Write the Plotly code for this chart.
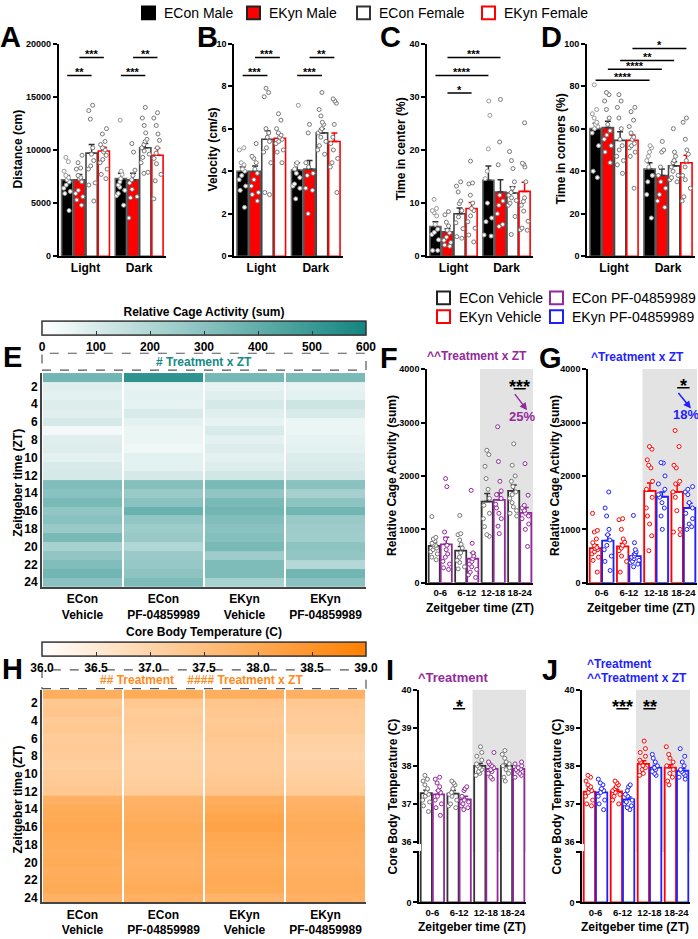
import plotly.graph_objects as go

W, H = 698, 939
FONT = "Liberation Sans, Arial, Helvetica, sans-serif"
BARGAP = 0.09
GROUPGAP = 0.08

PURPLE = "#932a9c"
BLUE = "#1f1fff"
RED = "#ff0000"
TEAL = "#168a85"
ORANGE = "#ff8a1c"
SHADE = "#e3e3e3"

# ---------------- data ----------------
ld_cats = ["Light", "Dark"]
sex_groups = ["ECon Male", "EKyn Male", "ECon Female", "EKyn Female"]

dist_means = [[7200, 7300], [7200, 7200], [9700, 10200], [9900, 9500]]
dist_sems = [[400, 500], [500, 600], [800, 400], [350, 650]]
dist_pts = [
    [[9300, 8900, 8000, 7600, 7400, 7200, 7000, 6700, 6400, 6100, 5900, 4300],
     [12800, 8000, 7700, 7300, 7000, 6700, 6500, 6200, 5900, 5700, 4800]],
    [[9500, 8800, 8300, 8200, 7600, 7400, 7300, 7000, 6200, 5900, 5600, 5300, 4800],
     [10600, 9800, 8100, 7600, 7200, 6900, 6300, 5600, 5500, 3600]],
    [[14200, 13700, 12900, 10200, 9600, 9000, 8500, 8200, 6900, 6700, 5200],
     [14000, 13000, 12300, 11600, 11000, 10800, 10500, 10200, 9900, 9600, 9300, 8800, 7900, 7800]],
    [[12000, 11500, 10800, 10500, 10200, 10000, 9800, 9500, 9100, 8800, 8200, 7700, 7300],
     [13500, 13000, 12300, 11500, 10900, 10200, 9700, 9200, 8700, 7700, 7100, 5400]],
]

vel_means = [[4.0, 4.05], [4.0, 4.1], [5.5, 5.8], [5.55, 5.4]]
vel_sems = [[0.2, 0.35], [0.25, 0.4], [0.4, 0.2], [0.2, 0.4]]
vel_pts = [
    [[5.1, 5.0, 4.4, 4.3, 4.1, 4.0, 3.8, 3.6, 3.3, 3.1, 2.3],
     [7.1, 4.4, 4.3, 4.1, 3.9, 3.7, 3.4, 3.3, 3.2, 2.7]],
    [[5.3, 4.7, 4.6, 4.4, 4.1, 3.9, 3.6, 3.3, 3.0, 2.9, 2.6],
     [6.2, 5.8, 4.4, 4.2, 3.9, 3.8, 3.2, 3.1, 2.0]],
    [[7.9, 7.7, 7.5, 6.0, 5.8, 5.6, 5.4, 5.1, 4.9, 4.4, 3.0, 2.9],
     [7.7, 6.3, 6.9, 6.6, 6.2, 6.0, 5.9, 5.8, 5.6, 5.4, 5.2, 5.0, 4.8]],
    [[6.7, 6.4, 6.0, 5.8, 5.7, 5.6, 5.5, 5.4, 5.3, 5.0, 4.9, 4.4],
     [7.4, 7.3, 7.2, 6.2, 5.6, 5.3, 5.0, 4.6, 4.4, 4.2, 3.0]],
]

center_means = [[5.6, 14.3], [4.6, 12.1], [8.0, 11.9], [9.0, 12.2]]
center_sems = [[0.9, 2.7], [0.6, 2.3], [1.1, 1.2], [1.1, 1.7]]
center_pts = [
    [[10.7, 9.0, 8.6, 8.2, 7.6, 6.0, 5.1, 4.5, 4.1, 3.1, 1.1, 1.1],
     [29.2, 26.5, 20.2, 16.0, 14.6, 10.0, 7.2, 6.5, 4.0, 3.8]],
    [[8.4, 7.8, 6.4, 5.7, 4.9, 4.4, 3.6, 3.0, 2.6, 2.1, 1.9],
     [29.5, 21.5, 17.2, 11.5, 10.4, 9.6, 8.0, 6.0, 5.6]],
    [[14.0, 13.2, 12.1, 10.4, 9.9, 8.6, 7.4, 6.3, 5.2, 3.7, 3.4],
     [19.7, 18.0, 16.5, 14.0, 12.8, 12.0, 11.5, 11.0, 10.5, 10.0, 9.6, 7.5, 4.1]],
    [[17.9, 13.8, 13.6, 11.5, 10.0, 9.0, 8.6, 7.6, 6.5, 5.3, 4.0, 2.7],
     [25.1, 17.5, 17.3, 16.8, 14.0, 11.0, 10.3, 9.6, 8.5, 6.6, 5.3, 5.0, 4.9]],
]

corner_means = [[60, 41], [60.5, 38], [54.5, 42.5], [54.5, 44]]
corner_sems = [[2.5, 3], [3, 3], [4, 2], [2.5, 3.5]]
corner_pts = [
    [[80.6, 69, 67, 65, 63, 62, 61, 60, 58, 52, 40, 37], [52, 51, 49, 47, 45, 42, 38, 35, 29, 18]],
    [[77, 76, 73, 69, 65, 62, 59, 57, 55, 52, 49, 44], [54, 50, 49, 42, 38, 35, 32, 29, 26, 23]],
    [[76, 73, 70, 65, 60, 55, 52, 50, 47, 45, 43, 39], [60, 49, 47, 45, 44, 42, 40, 38, 37, 36, 35]],
    [[70, 68, 64, 61, 58, 56, 55, 53, 52, 51, 49, 47, 32], [65, 63, 55, 50, 48, 45, 42, 38, 36, 32, 28, 26]],
]

zt_bins = ["0-6", "6-12", "12-18", "18-24"]

act_econ_names = ["ECon Vehicle", "ECon PF-04859989"]
act_econ_means = [[690, 600, 1520, 1720], [720, 450, 1550, 1310]]
act_econ_sems = [[60, 80, 150, 110], [130, 110, 130, 100]]
act_econ_pts = [
    [[1240, 850, 820, 780, 740, 720, 700, 680, 650, 620, 580, 540, 480, 430],
     [1260, 920, 900, 800, 720, 650, 560, 480, 420, 380, 300, 260],
     [2480, 2400, 2180, 1950, 1750, 1580, 1450, 1300, 1200, 1050, 900, 870],
     [2600, 2200, 2000, 1900, 1800, 1700, 1650, 1580, 1500, 1420, 1350, 1300, 1250]],
    [[1950, 1800, 950, 820, 700, 620, 540, 480, 400, 350, 280, 250],
     [1730, 740, 560, 500, 450, 400, 350, 300, 250, 200, 150, 100],
     [2920, 2270, 1900, 1720, 1650, 1580, 1470, 1400, 1300, 1200, 1060, 920],
     [2230, 1640, 1450, 1400, 1350, 1300, 1250, 1200, 1100, 1000, 680]],
]

act_ekyn_names = ["EKyn Vehicle", "EKyn PF-04859989"]
act_ekyn_means = [[650, 680, 1720, 1700], [790, 500, 1610, 1400]]
act_ekyn_sems = [[60, 60, 150, 130], [110, 50, 90, 90]]
act_ekyn_pts = [
    [[1300, 980, 950, 820, 750, 700, 660, 640, 620, 580, 540, 480, 420, 200],
     [1200, 1180, 1000, 820, 760, 700, 650, 600, 500, 400, 200],
     [2550, 2500, 2300, 2200, 2150, 1900, 1750, 1600, 1400, 1250, 1100, 880, 600],
     [2850, 2550, 2200, 2150, 1900, 1850, 1700, 1600, 1350, 1000, 950, 900]],
    [[1700, 1400, 1250, 1000, 900, 800, 700, 620, 500, 400, 230],
     [1260, 750, 620, 580, 540, 500, 480, 450, 420, 400, 380, 350, 300],
     [2250, 2240, 2000, 1850, 1750, 1650, 1600, 1500, 1400, 1250, 1000],
     [1800, 1750, 1700, 1650, 1500, 1400, 1300, 1200, 1100, 1050, 1000]],
]

temp_econ_means = [[37.28, 37.27, 38.0, 38.0], [37.25, 37.12, 37.92, 37.92]]
temp_econ_sems = [[0.08, 0.08, 0.06, 0.06], [0.1, 0.08, 0.07, 0.06]]
temp_econ_pts = [
    [[37.75, 37.65, 37.6, 37.5, 37.4, 37.3, 37.25, 37.2, 37.1, 37.05, 36.95, 36.8],
     [37.6, 37.55, 37.5, 37.4, 37.3, 37.25, 37.2, 37.1, 37.0, 36.95, 36.9],
     [38.5, 38.35, 38.25, 38.15, 38.05, 38.0, 37.95, 37.9, 37.85, 37.8, 37.75],
     [38.4, 38.3, 38.2, 38.1, 38.05, 38.0, 37.95, 37.9, 37.8, 37.7, 37.6]],
    [[37.7, 37.65, 37.55, 37.45, 37.35, 37.3, 37.2, 37.1, 37.0, 36.9, 36.7],
     [37.45, 37.4, 37.35, 37.2, 37.1, 37.05, 37.0, 36.95, 36.9, 36.85],
     [38.35, 38.1, 38.05, 38.0, 37.95, 37.9, 37.85, 37.8, 37.7, 37.65],
     [38.1, 38.05, 38.0, 37.95, 37.92, 37.9, 37.85, 37.8, 37.75, 37.7]],
]

temp_ekyn_means = [[37.32, 37.33, 38.05, 37.95], [37.3, 37.12, 37.95, 37.87]]
temp_ekyn_sems = [[0.07, 0.05, 0.08, 0.08], [0.08, 0.06, 0.06, 0.06]]
temp_ekyn_pts = [
    [[37.75, 37.7, 37.6, 37.5, 37.45, 37.4, 37.35, 37.3, 37.2, 37.1, 37.0, 36.95],
     [37.6, 37.55, 37.5, 37.45, 37.4, 37.35, 37.3, 37.25, 37.2, 37.1, 37.0],
     [38.65, 38.45, 38.35, 38.25, 38.15, 38.1, 38.0, 37.95, 37.9, 37.8, 37.75],
     [38.5, 38.3, 38.2, 38.1, 38.0, 37.9, 37.8, 37.7, 37.6, 37.5]],
    [[37.65, 37.55, 37.5, 37.4, 37.35, 37.3, 37.2, 37.1, 37.0, 36.85],
     [37.5, 37.45, 37.35, 37.25, 37.2, 37.1, 37.05, 37.0, 36.95, 36.9, 36.85],
     [38.3, 38.2, 38.1, 38.0, 37.95, 37.9, 37.85, 37.8, 37.75],
     [38.45, 38.25, 38.1, 38.0, 37.9, 37.85, 37.8, 37.75, 37.7, 37.65]],
]

hm_cols = ["ECon<br>Vehicle", "ECon<br>PF-04859989", "EKyn<br>Vehicle", "EKyn<br>PF-04859989"]
zt_hours = list(range(1, 25))
zt_ticks = list(range(2, 25, 2))

cage_econ_veh = [360, 80, 70, 90, 80, 110, 30, 80, 90, 70, 100, 110, 320, 300, 340, 280, 300, 260, 340, 220, 280, 320, 360, 300]
cage_econ_pf = [530, 60, 70, 60, 100, 70, 50, 50, 40, 70, 70, 110, 310, 260, 300, 380, 280, 250, 260, 200, 260, 270, 290, 330]
cage_ekyn_veh = [350, 60, 80, 110, 80, 60, 100, 70, 90, 70, 90, 120, 340, 280, 340, 360, 320, 300, 310, 340, 250, 330, 330, 220]
cage_ekyn_pf = [340, 60, 70, 130, 100, 50, 50, 60, 70, 90, 100, 120, 300, 230, 290, 360, 260, 250, 240, 290, 280, 190, 360, 300]
cage_ticks = [0, 100, 200, 300, 400, 500, 600]

temp_econ_veh = [37.9, 37.3, 37.35, 37.25, 37.3, 37.2, 37.25, 37.2, 37.15, 37.2, 37.25, 37.3, 37.85, 37.95, 38.0, 38.05, 38.0, 37.95, 37.9, 37.95, 37.9, 37.95, 38.0, 37.8]
temp_econ_pf = [37.95, 37.3, 37.2, 37.25, 37.2, 37.15, 37.1, 37.05, 37.1, 37.1, 37.15, 37.2, 37.8, 37.85, 37.9, 38.0, 37.95, 37.9, 37.85, 37.8, 37.85, 37.9, 37.95, 37.85]
temp_ekyn_veh = [37.9, 37.35, 37.3, 37.25, 37.3, 37.3, 37.25, 37.2, 37.2, 37.25, 37.3, 37.35, 37.9, 38.0, 38.1, 38.15, 38.05, 38.0, 37.95, 37.9, 37.95, 38.0, 37.95, 37.75]
temp_ekyn_pf = [37.85, 37.3, 37.25, 37.2, 37.2, 37.1, 37.05, 37.0, 37.05, 37.1, 37.15, 37.2, 37.75, 37.85, 37.9, 37.95, 37.9, 37.85, 37.85, 37.8, 37.85, 37.9, 37.9, 37.85]
temp_ticks = [36.0, 36.5, 37.0, 37.5, 38.0, 38.5, 39.0]

# ---------------- helpers ----------------
def xdom(a, b):
    return [a / W, b / W]


def ydom(top, bot):
    return [1 - bot / H, 1 - top / H]


traces = []
shapes = []
annotations = []
axes = {}

TICKFONT = dict(family=FONT, size=9, color="black", weight="bold")


def val_yaxis(dom, rng, anchor, dtick=None, tickvals=None, ticktext=None):
    d = dict(domain=dom, range=rng, showline=True, linecolor="black", linewidth=1.6,
             ticks="outside", ticklen=4, tickwidth=1.5, tickcolor="black",
             showgrid=False, zeroline=False, anchor=anchor, tickfont=TICKFONT,
             tickformat="d", fixedrange=True)
    if tickvals is not None:
        d["tickvals"] = tickvals
        if ticktext is not None:
            d["ticktext"] = ticktext
    else:
        d["dtick"] = dtick
        d["tick0"] = 0
    return d


def cat_xaxis(dom, anchor, ncat, size):
    return dict(domain=dom, anchor=anchor, type="category", range=[-0.5, ncat - 0.5],
                showline=True, linecolor="black", linewidth=1.6, ticks="", tickangle=0,
                showgrid=False, zeroline=False, fixedrange=True,
                tickfont=dict(family=FONT, size=size, color="black", weight="bold"))


def add_bars(xa, ya, cats, means, sems, names, fills, lines, errc, lw=1.6, err=True):
    for i in range(len(means)):
        traces.append(go.Bar(
            x=cats, y=means[i], name=names[i], xaxis=xa, yaxis=ya,
            marker=dict(color=fills[i], line=dict(color=lines[i], width=lw)),
            error_y=dict(type="data", array=sems[i], arrayminus=[0] * len(cats),
                         symmetric=False, color=errc[i], thickness=1.5, width=3,
                         visible=err),
            showlegend=False, hoverinfo="skip"))


def add_dots(xa, ya, cats, pts, dotc, group, size=4, jitter=0.8):
    for i in range(len(pts)):
        xs, ys = [], []
        for c, vals in zip(cats, pts[i]):
            xs += [c] * len(vals)
            ys += vals
        traces.append(go.Box(
            x=xs, y=ys, xaxis=xa, yaxis=ya, orientation="v", boxpoints="all",
            jitter=jitter, pointpos=0, alignmentgroup=group, offsetgroup=group + str(i),
            fillcolor="rgba(0,0,0,0)", line=dict(width=0, color="rgba(0,0,0,0)"),
            whiskerwidth=0, showlegend=False, hoverinfo="skip",
            marker=dict(size=size, color="white", line=dict(color=dotc[i], width=1))))


def ann(x, y, text, size=12, color="black", angle=0, xanchor="center", yanchor="middle",
        weight="bold"):
    annotations.append(dict(x=x / W, y=1 - y / H, xref="paper", yref="paper", text=text,
                            showarrow=False, textangle=angle, xanchor=xanchor,
                            yanchor=yanchor,
                            font=dict(family=FONT, size=size, color=color, weight=weight)))


def slot(c, s, n):
    return c + (s - (n - 1) / 2) * (1 - BARGAP) / n


def sig(xr, yr, n, c1, s1, c2, s2, yv, text, size=11, shift=-5):
    x1, x2 = slot(c1, s1, n), slot(c2, s2, n)
    shapes.append(dict(type="line", xref=xr, yref=yr, x0=x1, x1=x2, y0=yv, y1=yv,
                       line=dict(color="black", width=1.5)))
    annotations.append(dict(xref=xr, yref=yr, x=(x1 + x2) / 2, y=yv, text=text,
                            showarrow=False, yanchor="bottom", yshift=shift,
                            font=dict(family=FONT, size=size, color="black", weight="bold")))


def legend_item(sx, yc, fill, line, text):
    shapes.append(dict(type="rect", xref="paper", yref="paper", x0=sx / W, x1=(sx + 13) / W,
                       y0=1 - (yc + 6.5) / H, y1=1 - (yc - 6.5) / H, fillcolor=fill,
                       line=dict(color=line, width=2), layer="above"))
    ann(sx + 20, yc, text, size=14, xanchor="left", weight="normal")


# ---------------- legends ----------------
for sx, fill, line, text in [(142, "black", "black", sex_groups[0]),
                             (247, RED, "#222222", sex_groups[1]),
                             (357, "white", "#333333", sex_groups[2]),
                             (482, "white", RED, sex_groups[3])]:
    legend_item(sx, 8, fill, line, text)
for sx, yc, line, text in [(437, 296, "#222222", act_econ_names[0]),
                           (550, 296, PURPLE, act_econ_names[1]),
                           (437, 315, RED, act_ekyn_names[0]),
                           (550, 315, BLUE, act_ekyn_names[1])]:
    legend_item(sx, yc, "white", line, text)

# ---------------- panels A-D ----------------
fills4 = ["black", RED, "white", "white"]
lines4 = ["#666666", "#555555", "#444444", RED]
err4 = ["#333333", "#333333", "#333333", RED]
dot4 = ["#999999", "#777777", "#777777", "#777777"]

panelsAD = [
    ("x", "y", [58.7, 166], dist_means, dist_sems, dist_pts, [0, 20000], 5000, "Distance (cm)", 18),
    ("x2", "y2", [234, 343], vel_means, vel_sems, vel_pts, [0, 10], 2, "Velocity (cm/s)", 213),
    ("x3", "y3", [427, 533], center_means, center_sems, center_pts, [0, 40], 10, "Time in center (%)", 401),
    ("x4", "y4", [587, 695], corner_means, corner_sems, corner_pts, [0, 100], 20, "Time in corners (%)", 561),
]
for k, (xa, ya, xr, m, s, p, rng, dt, title, tx) in enumerate(panelsAD):
    add_bars(xa, ya, ld_cats, m, s, sex_groups, fills4, lines4, err4)
    add_dots(xa, ya, ld_cats, p, dot4, "g" + xa, size=4)
    xn = "xaxis" if k == 0 else "xaxis%d" % (k + 1)
    yn = "yaxis" if k == 0 else "yaxis%d" % (k + 1)
    axes[xn] = cat_xaxis(xdom(*xr), ya, 2, 12)
    axes[yn] = val_yaxis(ydom(39, 254), rng, xa, dtick=dt)
    ann(tx, 146, title, size=12, angle=-90)

sig("x", "y", 4, 0, 0, 0, 2, 17000, "**")
sig("x", "y", 4, 0, 1, 0, 3, 18700, "***")
sig("x", "y", 4, 1, 0, 1, 2, 17000, "***")
sig("x", "y", 4, 1, 1, 1, 3, 18700, "**")
sig("x2", "y2", 4, 0, 0, 0, 2, 8.5, "***")
sig("x2", "y2", 4, 0, 1, 0, 3, 9.35, "***")
sig("x2", "y2", 4, 1, 0, 1, 2, 8.5, "***")
sig("x2", "y2", 4, 1, 1, 1, 3, 9.35, "**")
sig("x3", "y3", 4, 0, 1, 0, 3, 30.7, "*")
sig("x3", "y3", 4, 0, 0, 1, 0, 34.0, "****")
sig("x3", "y3", 4, 0, 1, 1, 1, 37.4, "***")
sig("x4", "y4", 4, 0, 0, 1, 0, 82.8, "****")
sig("x4", "y4", 4, 0, 1, 1, 1, 87.9, "****")
sig("x4", "y4", 4, 0, 2, 1, 2, 92.1, "**")
sig("x4", "y4", 4, 0, 3, 1, 3, 97.7, "*")

# ---------------- heatmaps E and H ----------------
CB_X = 204


def heat(xa, ya, cols, zmin, zmax, cscale, ticks, tickfmt, cb_title, cb_y):
    z = [list(r) for r in zip(*cols)]
    traces.append(go.Heatmap(
        z=z, x=hm_cols, y=zt_hours, xaxis=xa, yaxis=ya, zmin=zmin, zmax=zmax,
        colorscale=cscale, xgap=2, hoverinfo="skip",
        colorbar=dict(orientation="h", x=CB_X / W, xanchor="center", y=1 - cb_y / H,
                      yanchor="bottom", len=324, lenmode="pixels", thickness=14,
                      thicknessmode="pixels", xpad=0, ypad=0, outlinewidth=1.5,
                      outlinecolor="#333333", tickvals=ticks, tickformat=tickfmt,
                      ticks="inside", ticklen=4, tickcolor="#333333",
                      tickfont=dict(family=FONT, size=12, color="black", weight="bold"),
                      title=dict(text=cb_title, side="top",
                                 font=dict(family=FONT, size=12, color="black", weight="bold")))))


heat("x5", "y5", [cage_econ_veh, cage_econ_pf, cage_ekyn_veh, cage_ekyn_pf], 0, 600,
     [[0, "#ffffff"], [1, "#138580"]], cage_ticks, "d", "Relative Cage Activity (sum)", 358)
heat("x8", "y8", [temp_econ_veh, temp_econ_pf, temp_ekyn_veh, temp_ekyn_pf], 36, 39,
     [[0, "#ffffff"], [1, "#ff7f00"]], temp_ticks, ".1f", "Core Body Temperature (C)", 682)

for xn, yn, xa, ya, top, bot in [("xaxis5", "yaxis5", "x5", "y5", 372, 588),
                                  ("xaxis8", "yaxis8", "x8", "y8", 692, 907)]:
    axes[xn] = dict(domain=xdom(42, 366), anchor=ya, showline=True, linecolor="#444444",
                    linewidth=2, ticks="", showgrid=False, zeroline=False, fixedrange=True,
                    tickfont=dict(family=FONT, size=12, color="black", weight="bold"))
    axes[yn] = dict(domain=ydom(top, bot), anchor=xa, range=[24.5, 0.5], tickvals=zt_ticks,
                    showline=True, linecolor="#444444", linewidth=2, ticks="",
                    showgrid=False, zeroline=False, fixedrange=True,
                    tickfont=dict(family=FONT, size=12, color="black", weight="bold"))

for top, bot in [(352, 369), (672, 691)]:
    shapes.append(dict(type="rect", xref="paper", yref="paper", x0=42 / W, x1=366 / W,
                       y0=1 - bot / H, y1=1 - top / H,
                       line=dict(color="#555555", width=1.2, dash="dash")))
ann(204, 361, "# Treatment x ZT", size=12, color=TEAL)
ann(202, 682, "## Treatment&nbsp;&nbsp;&nbsp;&nbsp;#### Treatment x ZT", size=12, color=ORANGE)
ann(18, 483, "Zeitgeber time (ZT)", size=12, angle=-90)
ann(18, 803, "Zeitgeber time (ZT)", size=12, angle=-90)

# ---------------- panels F, G ----------------
add_bars("x6", "y6", zt_bins, act_econ_means, act_econ_sems, act_econ_names,
         ["white", "white"], ["#333333", PURPLE], ["#333333", PURPLE], lw=1.8)
add_dots("x6", "y6", zt_bins, act_econ_pts, ["#777777", PURPLE], "gF", size=4)
add_bars("x7", "y7", zt_bins, act_ekyn_means, act_ekyn_sems, act_ekyn_names,
         ["white", "white"], [RED, BLUE], [RED, BLUE], lw=1.8)
add_dots("x7", "y7", zt_bins, act_ekyn_pts, [RED, BLUE], "gG", size=4)

axes["xaxis6"] = cat_xaxis(xdom(427, 533), "y6", 4, 9.5)
axes["yaxis6"] = val_yaxis(ydom(368, 584), [0, 4000], "x6", dtick=1000)
axes["xaxis7"] = cat_xaxis(xdom(588, 697), "y7", 4, 9.5)
axes["yaxis7"] = val_yaxis(ydom(368, 584), [0, 4000], "x7", dtick=1000)
for xr, yr in [("x6", "y6"), ("x7", "y7")]:
    shapes.append(dict(type="rect", xref=xr, yref=yr + " domain", x0=1.5, x1=3.5, y0=0, y1=1,
                       fillcolor=SHADE, line=dict(width=0), layer="below"))
ann(392, 476, "Relative Cage Activity (sum)", size=12, angle=-90)
ann(555, 476, "Relative Cage Activity (sum)", size=12, angle=-90)
ann(480, 609, "Zeitgeber time (ZT)", size=12)
ann(641, 609, "Zeitgeber time (ZT)", size=12)
ann(477, 355, "^^Treatment x ZT", size=12, color=PURPLE)
ann(637, 356, "^Treatment x ZT", size=12, color=BLUE)

sig("x6", "y6", 2, 3, 0, 3, 1, 3630, "***", size=18, shift=-10)
sig("x7", "y7", 2, 3, 0, 3, 1, 3650, "*", size=18, shift=-10)
for xr, yr, y0, y1, lab, yl, col in [("x6", "y6", 3560, 3230, "25%", 3110, PURPLE),
                                     ("x7", "y7", 3580, 3260, "18%", 3150, BLUE)]:
    annotations.append(dict(xref=xr, yref=yr, axref=xr, ayref=yr, x=slot(3, 1, 2) + 0.05,
                            y=y1, ax=slot(3, 0, 2), ay=y0, text="", showarrow=True,
                            arrowhead=2, arrowsize=1, arrowwidth=1.5, arrowcolor=col))
    annotations.append(dict(xref=xr, yref=yr, x=3.1, y=yl, text=lab, showarrow=False,
                            font=dict(family=FONT, size=13, color=col, weight="bold")))

# ---------------- panels I, J (broken axis) ----------------
for (xa, yu, yl, xr, means, sems, pts, names, lines, dots, grp) in [
    ("x9", "y9", "y10", [419, 526], temp_econ_means, temp_econ_sems, temp_econ_pts,
     act_econ_names, ["#333333", PURPLE], ["#777777", PURPLE], "gI"),
    ("x11", "y11", "y12", [582, 690], temp_ekyn_means, temp_ekyn_sems, temp_ekyn_pts,
     act_ekyn_names, [RED, BLUE], [RED, BLUE], "gJ"),
]:
    add_bars(xa, yu, zt_bins, means, sems, names, ["white", "white"], lines, lines, lw=1.8)
    add_dots(xa, yu, zt_bins, pts, dots, grp, size=4)
    add_bars(xa, yl, zt_bins, means, sems, names, ["white", "white"], lines, lines, lw=1.8,
             err=False)
    n = xa[1:]
    axes["xaxis" + n] = cat_xaxis(xdom(*xr), yl, 4, 9.5)
    axes["yaxis" + yu[1:]] = val_yaxis(ydom(692, 856), [35.74, 40], xa,
                                       tickvals=[36, 37, 38, 39, 40])
    axes["yaxis" + yl[1:]] = val_yaxis(ydom(856, 907), [0, 36], xa, tickvals=[0, 36],
                                       ticktext=["0", ""])
    shapes.append(dict(type="rect", xref=xa, yref=yu + " domain", x0=1.5, x1=3.5, y0=0, y1=1,
                       fillcolor=SHADE, line=dict(width=0), layer="below"))
    shapes.append(dict(type="rect", xref="paper", yref="paper", x0=(xr[0] - 4) / W,
                       x1=(xr[0] + 2) / W, y0=1 - 855 / H, y1=1 - 848 / H,
                       fillcolor="white", line=dict(width=0), layer="above"))

sig("x9", "y9", 2, 1, 0, 1, 1, 39.5, "*", size=18, shift=-10)
sig("x11", "y11", 2, 1, 0, 1, 1, 39.5, "***", size=18, shift=-10)
sig("x11", "y11", 2, 2, 0, 2, 1, 39.5, "**", size=18, shift=-10)
ann(393, 800, "Core Body Temperature (C)", size=12, angle=-90)
ann(557, 800, "Core Body Temperature (C)", size=12, angle=-90)
ann(472, 932, "Zeitgeber time (ZT)", size=12)
ann(635, 932, "Zeitgeber time (ZT)", size=12)
ann(453, 680, "^Treatment", size=13, color=PURPLE)
ann(585, 666, "^Treatment", size=12, color=BLUE, xanchor="left")
ann(585, 680, "^^Treatment x ZT", size=12, color=BLUE, xanchor="left")

# ---------------- panel letters ----------------
for letter, x, y in [("A", 10, 32), ("B", 207, 32), ("C", 390, 32), ("D", 551, 32),
                     ("E", 12, 356), ("F", 389, 357), ("G", 550, 357),
                     ("H", 12, 671), ("I", 390, 672), ("J", 550, 672)]:
    ann(x, y, letter, size=29)

fig = go.Figure(data=traces)
fig.update_layout(
    width=W, height=H, autosize=False,
    margin=dict(l=0, r=0, t=0, b=0, pad=0),
    paper_bgcolor="white", plot_bgcolor="white",
    font=dict(family=FONT, size=10, color="black", weight="bold"),
    barmode="group", bargap=BARGAP, bargroupgap=GROUPGAP,
    boxmode="group", boxgap=BARGAP, boxgroupgap=GROUPGAP,
    showlegend=False,
    shapes=shapes, annotations=annotations,
    **axes,
)
fig.write_html("out.html", config={"displayModeBar": False},
               post_script="document.body.style.margin='0px';")
